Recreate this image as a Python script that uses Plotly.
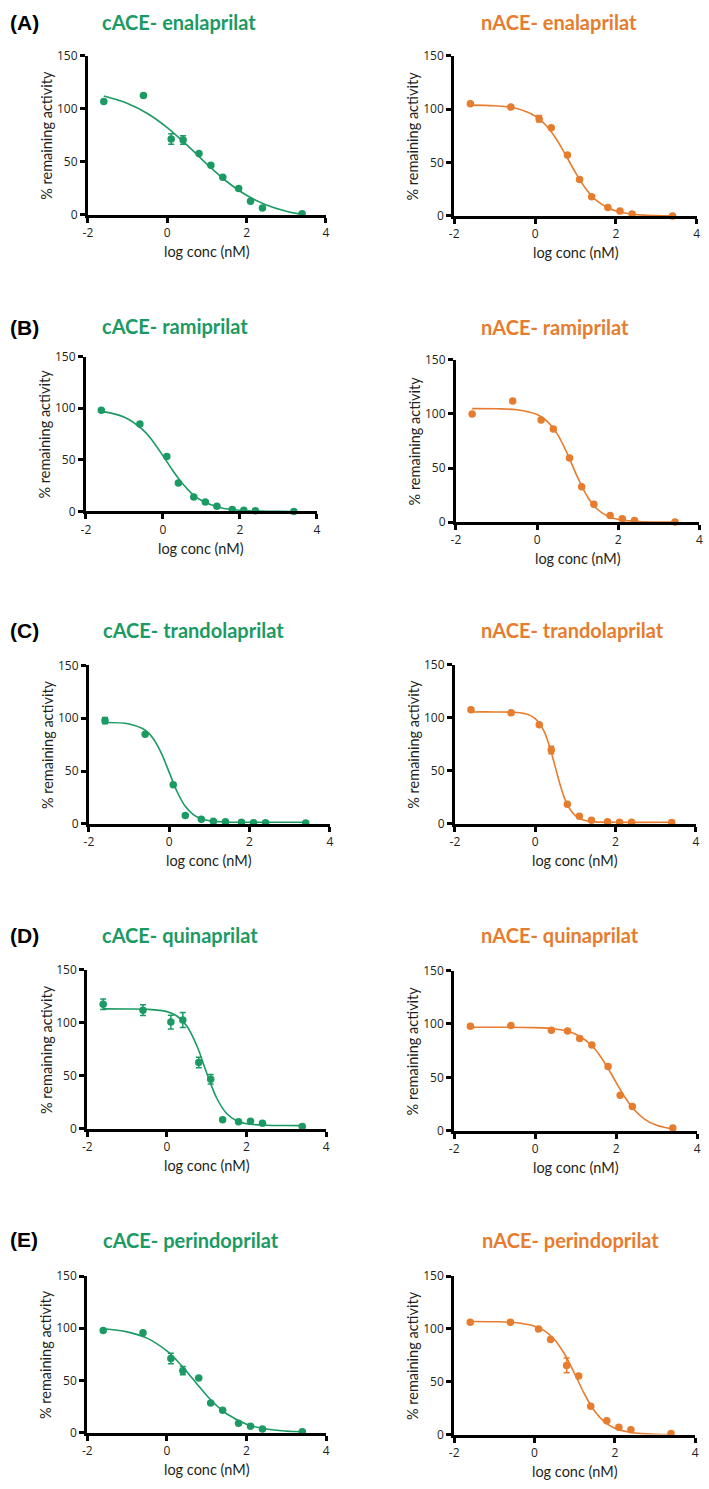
import plotly.graph_objects as go

W, H = 709, 1489
GREEN = "#1b9a64"
ORANGE = "#e67c2e"

# ---------------- data ----------------
log_conc = [-1.6, -0.6, 0.1, 0.4, 0.8, 1.1, 1.4, 1.8, 2.1, 2.4, 3.4]
log_conc_no01 = [-1.6, -0.6, 0.4, 0.8, 1.1, 1.4, 1.8, 2.1, 2.4, 3.4]
x_ticks = [-2, 0, 2, 4]
x_ticktext = ["-2", "0", "2", "4"]
y_ticks = [0, 50, 100, 150]
y_ticktext = ["0", "50", "100", "150"]

cace_enalaprilat = [107, 112.5, 71.6, 70.7, 58, 46.7, 35.5, 25, 13, 6.5, 1]
cace_enalaprilat_err = [0, 0, 5, 4, 0, 0, 0, 0, 0, 0, 0]
cace_enalaprilat_fit_x = [-1.6, -1.0, -0.5, 0, 0.5, 1.0, 1.5, 2.0, 2.5, 3.0, 3.4]
cace_enalaprilat_fit = [112.0, 105.0, 95.6, 82.3, 65.7, 47.9, 31.5, 18.5, 9.4, 3.5, 0.5]

nace_enalaprilat = [105, 101.9, 91, 82.6, 57, 34, 18, 7.8, 4.7, 1.9, 0]
nace_enalaprilat_err = [0, 0, 3, 0, 0, 0, 0, 0, 0, 0, 0]
nace_enalaprilat_fit_x = [-1.6, -1.0, -0.5, 0, 0.25, 0.5, 0.75, 1.0, 1.25, 1.5, 2.0, 2.5, 3.0, 3.4]
nace_enalaprilat_fit = [103.8, 103.2, 101.0, 93.6, 85.6, 73.4, 57.5, 40.5, 25.7, 15.1, 4.5, 1.2, 0.3, 0.1]

cace_ramiprilat = [98, 84.7, 53.4, 27.5, 14, 9.3, 5.1, 1.9, 1.3, 0.6, 0]
cace_ramiprilat_err = [0, 0, 0, 0, 0, 0, 0, 0, 0, 0, 0]
cace_ramiprilat_fit_x = [-1.6, -1.0, -0.5, -0.25, 0, 0.25, 0.5, 0.75, 1.0, 1.5, 2.0, 2.5, 3.0, 3.4]
cace_ramiprilat_fit = [97.0, 91.4, 78.4, 67.4, 54.0, 39.9, 27.3, 17.4, 10.6, 3.6, 1.2, 0.4, 0.1, 0.05]

nace_ramiprilat = [100, 112, 94.5, 86, 59.3, 32.7, 16.5, 6.1, 3, 1.5, 0]
nace_ramiprilat_err = [0, 0, 0, 0, 0, 0, 0, 0, 0, 0, 0]
nace_ramiprilat_fit_x = [-1.6, -1.0, -0.5, 0, 0.25, 0.5, 0.75, 1.0, 1.25, 1.5, 1.75, 2.0, 2.5, 3.0, 3.4]
nace_ramiprilat_fit = [105, 104.8, 103.9, 99.5, 93.2, 81.4, 62.9, 41.3, 23.0, 11.4, 5.3, 2.35, 0.46, 0.1, 0.0]

cace_trandolaprilat = [97.8, 84.8, 37, 8, 4.5, 2.5, 2, 1.5, 1, 1, 0.8]
cace_trandolaprilat_err = [3, 0, 0, 0, 0, 0, 0, 0, 0, 0, 0]
cace_trandolaprilat_fit_x = [-1.6, -1.0, -0.6, -0.4, -0.2, 0, 0.2, 0.4, 0.6, 0.8, 1.0, 1.4, 2.0, 3.4]
cace_trandolaprilat_fit = [95.9, 94.5, 88.7, 80.9, 67.3, 48.75, 30.2, 16.6, 8.8, 4.8, 3.0, 1.8, 1.5, 1.5]

nace_trandolaprilat = [107.5, 104.7, 93.4, 69.7, 18.4, 7.2, 3.4, 2, 1.5, 1.5, 1.2]
nace_trandolaprilat_err = [0, 0, 0, 3.5, 0, 0, 0, 0, 0, 0, 0]
nace_trandolaprilat_fit_x = [-1.6, -1.0, -0.5, -0.2, 0, 0.2, 0.35, 0.5, 0.65, 0.8, 1.0, 1.2, 1.5, 2.0, 3.4]
nace_trandolaprilat_fit = [105.5, 105.5, 105.1, 103.4, 99.3, 88.9, 73.9, 53.5, 33.1, 18.1, 7.7, 3.6, 1.9, 1.5, 1.5]

cace_quinaprilat = [117.4, 111.8, 100.6, 102.5, 62.4, 46.6, 8.4, 6.5, 7.2, 5.3, 2.2]
cace_quinaprilat_err = [5, 5, 6.5, 7, 5, 4.5, 0, 0, 0, 0, 0]
cace_quinaprilat_fit_x = [-1.6, -1.0, -0.5, 0, 0.25, 0.5, 0.75, 1.0, 1.25, 1.5, 1.75, 2.0, 2.5, 3.0, 3.4]
cace_quinaprilat_fit = [113, 112.9, 112.6, 110.4, 106.3, 96.9, 78.5, 52.6, 29.0, 14.4, 7.6, 4.8, 3.25, 3.05, 3.0]

nace_quinaprilat = [97.8, 98.5, 94.1, 93.5, 86.4, 80.2, 60.2, 33.3, 22.8, 2.5]
nace_quinaprilat_err = [0, 0, 0, 0, 0, 0, 0, 0, 0, 0]
nace_quinaprilat_fit_x = [-1.6, -1.0, 0, 0.5, 0.8, 1.1, 1.4, 1.6, 1.8, 2.0, 2.2, 2.4, 2.7, 3.0, 3.4]
nace_quinaprilat_fit = [97, 97, 96.6, 95.3, 93.1, 88.5, 79.6, 70.3, 58.4, 45.2, 32.4, 21.7, 10.9, 5.05, 1.7]

cace_perindoprilat = [97.8, 95.6, 71, 59.3, 52.4, 28.4, 21.5, 9, 6, 3.5, 0.8]
cace_perindoprilat_err = [0, 0, 5, 4, 0, 0, 0, 0, 0, 0, 0]
cace_perindoprilat_fit_x = [-1.6, -1.0, -0.5, 0, 0.25, 0.5, 0.75, 1.0, 1.25, 1.5, 2.0, 2.5, 3.0, 3.4]
cace_perindoprilat_fit = [99.5, 96.5, 90.5, 78.2, 69.1, 58.3, 46.8, 35.6, 25.8, 18.0, 8.0, 3.36, 1.36, 0.66]

nace_perindoprilat = [106.2, 106.2, 100, 90, 65.4, 55.5, 26.8, 13, 7, 4.5, 1]
nace_perindoprilat_err = [0, 0, 0, 0, 7, 0, 0, 0, 0, 0, 0]
nace_perindoprilat_fit_x = [-1.6, -1.0, -0.5, 0, 0.25, 0.5, 0.75, 1.0, 1.25, 1.5, 1.75, 2.0, 2.5, 3.0, 3.4]
nace_perindoprilat_fit = [107, 106.8, 106.0, 102.6, 98.1, 89.7, 76.0, 57.5, 37.9, 22.1, 11.7, 5.9, 1.38, 0.31, 0.06]

titles = ["cACE- enalaprilat", "nACE- enalaprilat",
          "cACE- ramiprilat", "nACE- ramiprilat",
          "cACE- trandolaprilat", "nACE- trandolaprilat",
          "cACE- quinaprilat", "nACE- quinaprilat",
          "cACE- perindoprilat", "nACE- perindoprilat"]
row_labels = ["(A)", "(B)", "(C)", "(D)", "(E)"]
x_title = "log conc (nM)"
y_title = "% remaining activity"

series = [
    (log_conc, cace_enalaprilat, cace_enalaprilat_err, cace_enalaprilat_fit_x, cace_enalaprilat_fit),
    (log_conc, nace_enalaprilat, nace_enalaprilat_err, nace_enalaprilat_fit_x, nace_enalaprilat_fit),
    (log_conc, cace_ramiprilat, cace_ramiprilat_err, cace_ramiprilat_fit_x, cace_ramiprilat_fit),
    (log_conc, nace_ramiprilat, nace_ramiprilat_err, nace_ramiprilat_fit_x, nace_ramiprilat_fit),
    (log_conc, cace_trandolaprilat, cace_trandolaprilat_err, cace_trandolaprilat_fit_x, cace_trandolaprilat_fit),
    (log_conc, nace_trandolaprilat, nace_trandolaprilat_err, nace_trandolaprilat_fit_x, nace_trandolaprilat_fit),
    (log_conc, cace_quinaprilat, cace_quinaprilat_err, cace_quinaprilat_fit_x, cace_quinaprilat_fit),
    (log_conc_no01, nace_quinaprilat, nace_quinaprilat_err, nace_quinaprilat_fit_x, nace_quinaprilat_fit),
    (log_conc, cace_perindoprilat, cace_perindoprilat_err, cace_perindoprilat_fit_x, cace_perindoprilat_fit),
    (log_conc, nace_perindoprilat, nace_perindoprilat_err, nace_perindoprilat_fit_x, nace_perindoprilat_fit),
]

# ---------------- layout geometry (pixels) ----------------
# (left, right, top, bottom) of each plotting area
boxes = [
    (84, 325, 47.3, 208.3), (455, 700.7, 47.3, 209.3),
    (82, 316, 351.7, 508.3), (456.7, 703.3, 355, 519),
    (85, 329, 664, 824.3), (455.7, 699.7, 663.3, 824.3),
    (83.3, 325.3, 971.7, 1132.7), (455, 701, 972.7, 1134.7),
    (83.3, 325.3, 1281.7, 1440), (455, 699, 1281.7, 1442),
]
title_pos = [
    (176.7, 13.5), (561, 13.5),
    (172, 320.7), (556.7, 321.7),
    (190.8, 628.3), (575, 628.3),
    (177.5, 936.7), (562, 936.7),
    (188, 1245), (572.8, 1245),
]
label_y = [13.5, 321.7, 628.3, 937, 1245]

fig = go.Figure()
annotations = []
layout = dict(
    width=W, height=H, autosize=False,
    margin=dict(l=0, r=0, t=0, b=0),
    paper_bgcolor="white", plot_bgcolor="white",
    showlegend=False,
)

FONT = "Lato"
TICKFONT = dict(family="Open Sans", size=12, color="#231f20")

for i, ((xs, ys, es, fx, fy), (l, r, t, b)) in enumerate(zip(series, boxes)):
    n = i + 1
    color = GREEN if i % 2 == 0 else ORANGE
    xa = "x" if n == 1 else f"x{n}"
    ya = "y" if n == 1 else f"y{n}"
    fig.add_trace(go.Scatter(
        x=fx, y=fy, mode="lines", xaxis=xa, yaxis=ya,
        line=dict(color=color, width=1.6, shape="spline", smoothing=1.0),
        hoverinfo="skip", cliponaxis=True,
    ))
    fig.add_trace(go.Scatter(
        x=xs, y=ys, mode="markers", xaxis=xa, yaxis=ya,
        marker=dict(color=color, size=7.5),
        error_y=dict(type="data", array=es, visible=True, color=color,
                     thickness=1.5, width=3),
        cliponaxis=False,
    ))
    xkey = "xaxis" if n == 1 else f"xaxis{n}"
    ykey = "yaxis" if n == 1 else f"yaxis{n}"
    layout[xkey] = dict(
        domain=[l / W, r / W], anchor=ya, range=[-2, 4],
        tickmode="array", tickvals=x_ticks, ticktext=x_ticktext,
        showline=True, linewidth=3, linecolor="black",
        ticks="outside", ticklen=5, tickwidth=2.5, tickcolor="black",
        showgrid=False, zeroline=False, tickfont=TICKFONT, fixedrange=True,
    )
    layout[ykey] = dict(
        domain=[1 - b / H, 1 - t / H], anchor=xa, range=[0, 150],
        tickmode="array", tickvals=y_ticks, ticktext=y_ticktext,
        showline=True, linewidth=3, linecolor="black",
        ticks="outside", ticklen=5, tickwidth=2.5, tickcolor="black",
        showgrid=False, zeroline=False, tickfont=TICKFONT, fixedrange=True,
    )
    tx, ty = title_pos[i]
    annotations.append(dict(
        text=f"<b>{titles[i]}</b>", x=tx / W, y=1 - ty / H, xref="paper", yref="paper",
        xanchor="center", yanchor="middle", showarrow=False,
        font=dict(family=FONT, size=20, color=color),
    ))
    # axis titles
    annotations.append(dict(
        text=x_title, x=(l + r) / 2 / W, y=1 - (b + 37) / H, xref="paper", yref="paper",
        xanchor="center", yanchor="middle", showarrow=False,
        font=dict(family=FONT, size=14.5, color="#231f20"),
    ))
    annotations.append(dict(
        text=y_title, x=(l - 42) / W, y=1 - (t + b) / 2 / H, xref="paper", yref="paper",
        xanchor="center", yanchor="middle", showarrow=False, textangle=-90,
        font=dict(family=FONT, size=14.5, color="#231f20"),
    ))

for lab, ly in zip(row_labels, label_y):
    annotations.append(dict(
        text=f"<b>{lab}</b>", x=3 / W, y=1 - ly / H, xref="paper", yref="paper",
        xanchor="left", yanchor="middle", showarrow=False,
        font=dict(family="Liberation Sans", size=21, color="black"),
    ))

layout["annotations"] = annotations
fig.update_layout(**layout)
fig.write_html("out.html")
